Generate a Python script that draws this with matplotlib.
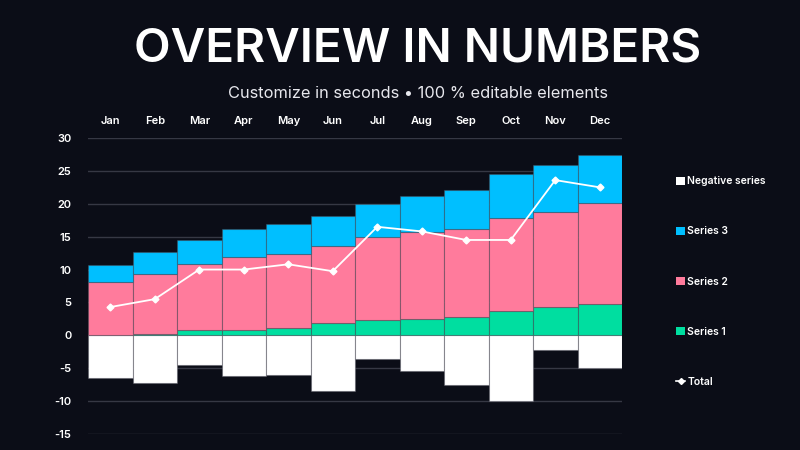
import matplotlib
matplotlib.use("Agg")
import matplotlib.pyplot as plt
import numpy as np
from matplotlib.lines import Line2D
from matplotlib.patches import Patch

months = ["Jan", "Feb", "Mar", "Apr", "May", "Jun", "Jul", "Aug", "Sep", "Oct", "Nov", "Dec"]
series1 = [0.0, 0.15, 0.8, 0.85, 1.15, 1.8, 2.4, 2.55, 2.85, 3.7, 4.3, 4.8]
series2 = [8.1, 9.25, 10.1, 11.05, 11.25, 11.85, 12.5, 13.15, 13.35, 14.1, 14.5, 15.25]
series3 = [2.55, 3.3, 3.6, 4.3, 4.5, 4.45, 5.0, 5.5, 5.9, 6.7, 7.1, 7.35]
negative = [-6.45, -7.2, -4.5, -6.2, -6.1, -8.4, -3.55, -5.4, -7.6, -10.0, -2.3, -4.9]
total = [4.3, 5.5, 10.0, 10.0, 10.8, 9.75, 16.5, 15.8, 14.5, 14.5, 23.6, 22.5]
yticks = [30, 25, 20, 15, 10, 5, 0, -5, -10, -15]

BG = "#0b0d17"
C_S1 = "#00dea0"
C_S2 = "#ff7b9c"
C_S3 = "#00bfff"
C_NEG = "#ffffff"
EDGE = (0.3, 0.3, 0.35, 0.45)

plt.rcParams['font.family'] = ['Inter', 'DejaVu Sans']

fig = plt.figure(figsize=(8, 4.5), dpi=100, facecolor=BG)
ax = fig.add_axes([88/800, 1-434/450, (622-88)/800, (434-138)/450])
ax.set_facecolor(BG)

x = np.arange(len(months))
s1 = np.array(series1); s2 = np.array(series2); s3 = np.array(series3)
ax.bar(x, negative, width=1.0, color=C_NEG, edgecolor=EDGE, linewidth=0.8, zorder=3)
ax.bar(x, s1, width=1.0, color=C_S1, edgecolor=EDGE, linewidth=0.8, zorder=3)
ax.bar(x, s2, bottom=s1, width=1.0, color=C_S2, edgecolor=EDGE, linewidth=0.8, zorder=3)
ax.bar(x, s3, bottom=s1 + s2, width=1.0, color=C_S3, edgecolor=EDGE, linewidth=0.8, zorder=3)
ax.plot(x, total, color="white", linewidth=1.3, marker="D", markersize=3.5, zorder=5)

ax.set_xlim(-0.5, len(months) - 0.5)
ax.set_ylim(-15, 30)
ax.set_yticks(yticks)
ax.set_yticklabels([str(v) for v in yticks], color="white", fontsize=8, fontweight="semibold")
ax.tick_params(axis="y", length=0, pad=12)
ax.xaxis.tick_top()
ax.set_xticks(x)
ax.set_xticklabels(months, color="white", fontsize=8, fontweight="semibold")
ax.tick_params(axis="x", length=0, pad=9)
for v in yticks:
    ax.axhline(v, color="#363844", linewidth=1.0, zorder=1)
for s in ax.spines.values():
    s.set_visible(False)

fig.text(418/800, 1-50/450, "OVERVIEW IN NUMBERS", color="white", fontsize=34.3,
         fontweight="semibold", ha="center", va="center")
fig.text(418/800, 1-93/450, "Customize in seconds \u2022 100 % editable elements", color="#e8e8ee",
         fontsize=11.8, ha="center", va="center")

handles = [Patch(facecolor=C_NEG), Patch(facecolor=C_S3), Patch(facecolor=C_S2), Patch(facecolor=C_S1),
           Line2D([0], [0], color="white", marker="D", markersize=3, linewidth=1.2)]
labels = ["Negative series", "Series 3", "Series 2", "Series 1", "Total"]
leg = fig.legend(handles, labels, loc="upper left", bbox_to_anchor=(667/800, 1-167/450),
                 frameon=False, labelspacing=3.85, handlelength=0.8, handleheight=0.8,
                 handletextpad=0.25, fontsize=7.5)
for t in leg.get_texts():
    t.set_color("white")
    t.set_fontweight("semibold")

fig.savefig("out.png", dpi=100, facecolor=BG)
